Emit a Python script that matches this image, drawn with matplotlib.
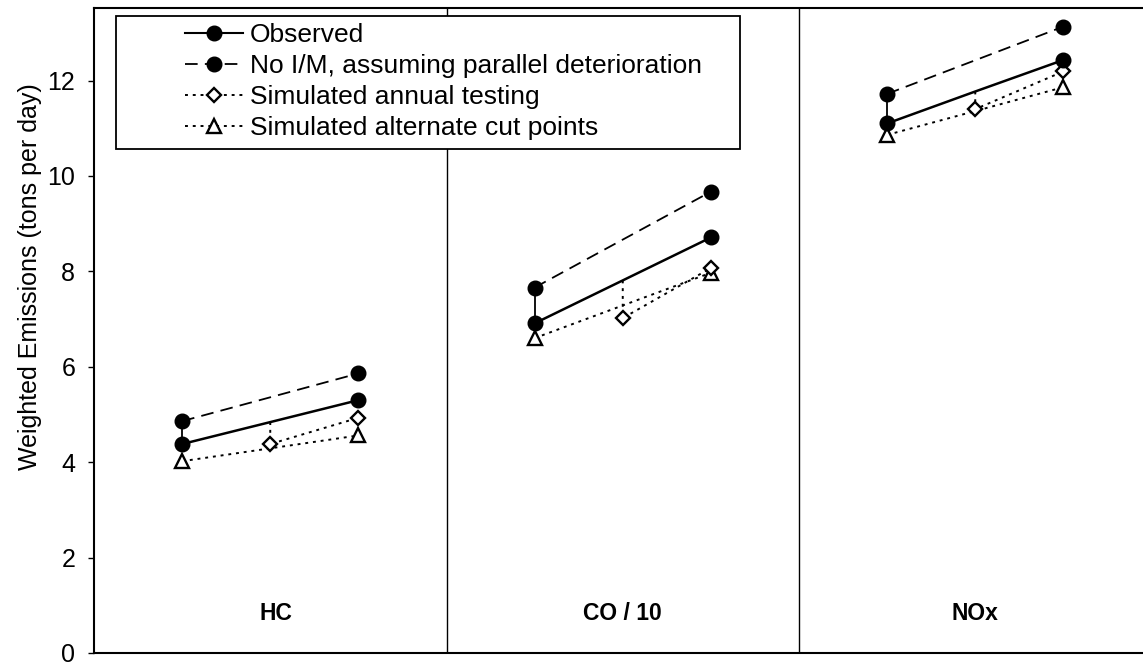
import matplotlib
matplotlib.use("Agg")
import matplotlib.pyplot as plt
from matplotlib.patches import Rectangle
from matplotlib.lines import Line2D

plt.rcParams['font.family'] = ['Liberation Sans', 'DejaVu Sans']

categories = ["HC", "CO / 10", "NOx"]
observed_start = [4.38, 6.91, 11.10]
observed_mid = [4.84, 7.81, 11.77]
observed_end = [5.30, 8.71, 12.43]
noim_start = [4.86, 7.66, 11.72]
noim_end = [5.86, 9.67, 13.13]
annual_mid = [4.38, 7.02, 11.40]
annual_end = [4.93, 8.07, 12.19]
altcut_start = [4.02, 6.60, 10.86]
altcut_end = [4.56, 7.97, 11.86]
yticks = [0, 2, 4, 6, 8, 10, 12]
legend_labels = ["Observed", "No I/M, assuming parallel deterioration",
                 "Simulated annual testing", "Simulated alternate cut points"]

W, H = 1143, 665
fig = plt.figure(figsize=(W / 100, H / 100), dpi=100)
ax = fig.add_axes([94 / W, 12 / H, 1057.5 / W, 645 / H])

dash = (0, (7, 4))
dot = (0, (1.5, 2.5))
circ = dict(marker='o', markersize=10.5, markerfacecolor='black', markeredgecolor='black')
diam = dict(marker='D', markersize=7.5, markerfacecolor='white', markeredgecolor='black', markeredgewidth=1.7)
tri = dict(marker='^', markersize=9.5, markerfacecolor='white', markeredgecolor='black', markeredgewidth=1.7)

for i in range(len(categories)):
    x0, x1, x2 = i + 0.25, i + 0.5, i + 0.75
    ax.plot([x0, x0], [noim_start[i], observed_start[i]], color='black', lw=1.3, zorder=2)
    ax.plot([x0, x2], [altcut_start[i], altcut_end[i]], color='black', lw=1.4, linestyle=dot, zorder=3, **tri)
    ax.plot([x1, x1, x2], [observed_mid[i], annual_mid[i], annual_end[i]], color='black', lw=1.4,
            linestyle=dot, markevery=[1, 2], zorder=3, **diam)
    ax.plot([x0, x2], [noim_start[i], noim_end[i]], color='black', lw=1.3, linestyle=dash, zorder=4, **circ)
    ax.plot([x0, x1, x2], [observed_start[i], observed_mid[i], observed_end[i]], color='black', lw=1.8,
            markevery=[0, 2], zorder=4, **circ)
    ax.text(i + 0.515 if i == 0 else i + 0.5, 0.82, categories[i], ha='center', va='center',
            fontsize=16.5, fontweight='bold')
    if i > 0:
        ax.axvline(i, color='black', lw=1.0, zorder=1)

ax.set_xlim(0, 3)
ax.set_ylim(0, 13.52)
ax.set_yticks(yticks)
ax.set_yticklabels([str(t) for t in yticks], fontsize=18)
ax.set_xticks([])
ax.tick_params(axis='y', direction='out', length=4.5, width=1.0, pad=9)
for s in ax.spines.values():
    s.set_linewidth(1.5)
fig.text(30 / W, 1 - 277 / H, "Weighted Emissions (tons per day)", rotation=90, ha='center', va='center',
         fontsize=18)

handles = [
    Line2D([], [], color='black', lw=1.5, **circ),
    Line2D([], [], color='black', lw=1.3, linestyle=dash, **circ),
    Line2D([], [], color='black', lw=1.4, linestyle=dot, **diam),
    Line2D([], [], color='black', lw=1.4, linestyle=dot, **tri),
]
box = Rectangle((116 / W, 1 - 149 / H), (740 - 116) / W, (149 - 16) / H, transform=fig.transFigure,
                facecolor='white', edgecolor='black', lw=1.3, zorder=5, clip_on=False)
ax.add_patch(box)
leg = ax.legend(handles, legend_labels, loc='upper left', bbox_to_anchor=(185 / W, 1 - 23 / H),
                bbox_transform=fig.transFigure, frameon=False, fontsize=19, handlelength=2.2,
                handletextpad=0.27, labelspacing=0.27, borderpad=0, borderaxespad=0)
leg.set_zorder(6)

fig.savefig("out.png", dpi=100)
